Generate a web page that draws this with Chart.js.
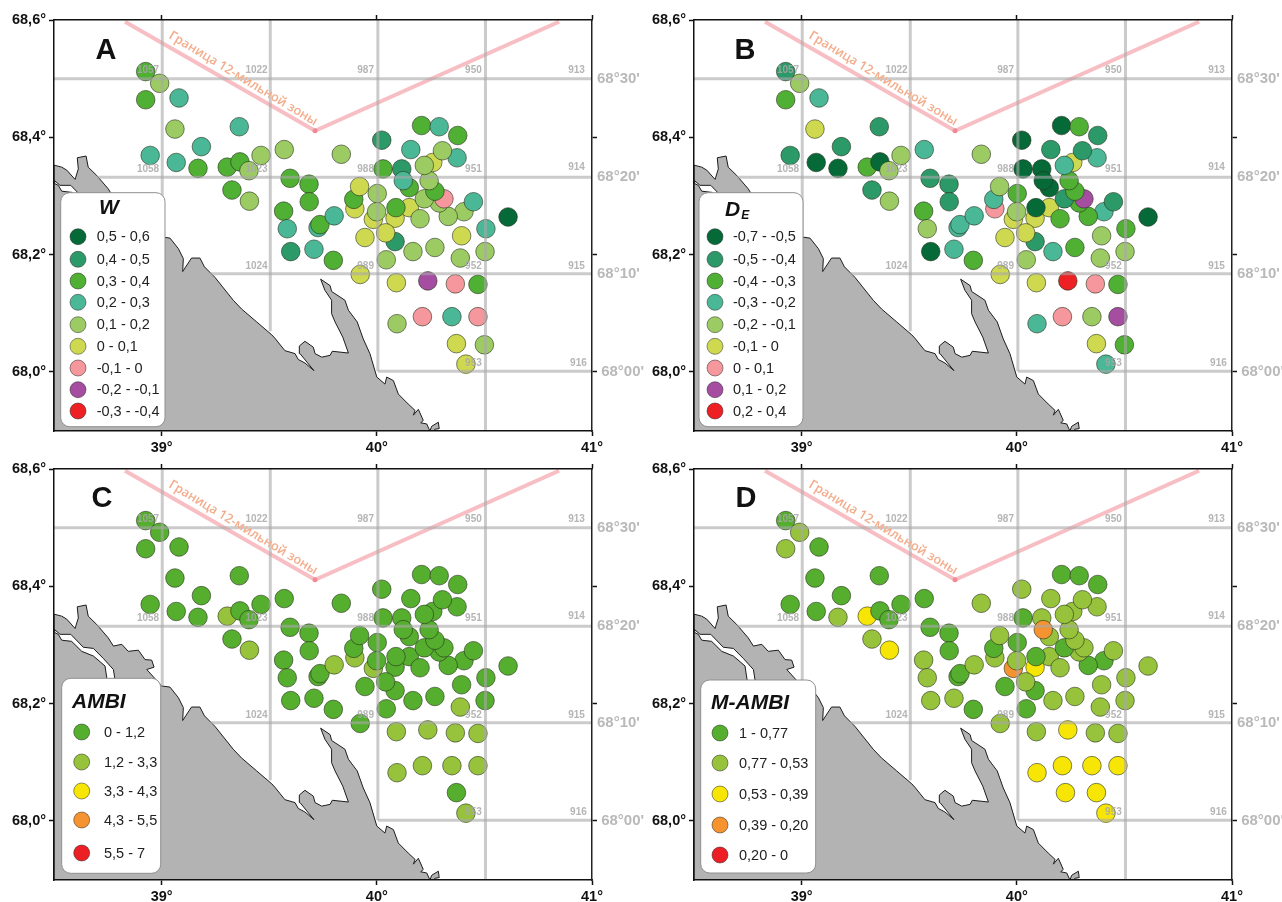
<!DOCTYPE html>
<html lang="ru">
<head>
  <meta charset="UTF-8">
  <title>W, DE, AMBI, M-AMBI</title>
  <script src="https://cdn.jsdelivr.net/npm/chart.js"></script>
  <style>
    body { margin: 0; background: #fff; overflow: hidden; }
    canvas { position: absolute; }
  </style>
</head>
<body>
  <canvas id="chartA" width="652" height="453" style="left:0;top:0"></canvas>
  <canvas id="chartB" width="642" height="453" style="left:640px;top:0"></canvas>
  <canvas id="chartC" width="652" height="453" style="left:0;top:449px"></canvas>
  <canvas id="chartD" width="642" height="453" style="left:640px;top:449px"></canvas>

  <script>
    // stations, drawing order matters where circles overlap
    const stationLon = [38.926,38.991,38.926,39.081,39.062,39.361,38.947,39.068,39.185,39.169,39.305,39.364,39.406,39.462,39.570,39.597,39.685,39.327,39.408,39.686,39.567,39.584,39.600,39.708,39.727,39.736,39.798,39.802,39.923,39.945,39.898,39.893,39.920,40.002,39.984,39.999,40.085,40.151,40.089,40.085,40.041,40.044,40.168,40.270,40.388,40.503,40.507,40.394,40.610,40.405,40.449,40.332,40.290,40.312,40.201,40.221,40.270,40.243,40.151,40.116,40.123,40.029,40.023,39.835,40.158,40.208,40.290,40.376,40.260,40.373,40.305,40.221,40.091,40.237,40.365,40.470,40.094,40.212,40.349,40.470,40.370,40.500,40.414,40.226];
    const stationLat = [68.512,68.492,68.464,68.467,68.414,68.418,68.369,68.357,68.384,68.347,68.349,68.358,68.343,68.369,68.379,68.330,68.320,68.310,68.291,68.290,68.274,68.244,68.205,68.209,68.246,68.251,68.190,68.266,68.166,68.229,68.278,68.294,68.316,68.304,68.260,68.273,68.262,68.280,68.280,68.222,68.237,68.191,68.205,68.212,68.194,68.205,68.244,68.232,68.264,68.273,68.290,68.265,68.288,68.295,68.261,68.295,68.308,68.326,68.314,68.346,68.326,68.346,68.395,68.371,68.379,68.420,68.418,68.403,68.357,68.365,68.377,68.352,68.152,68.155,68.150,68.149,68.082,68.094,68.094,68.094,68.048,68.046,68.013,68.048];

    // class of each station in each legend, null = no circle in that panel
    const classW = [2,4,2,3,4,3,3,3,3,2,2,2,4,4,4,2,2,2,4,2,2,3,1,3,3,2,2,3,5,5,5,2,5,4,5,4,5,5,2,1,5,4,4,4,4,4,3,5,0,4,3,4,4,6,4,4,2,4,2,1,3,2,1,4,3,2,3,2,5,3,4,4,5,7,6,2,4,6,3,6,5,4,5,null];
    const classDE = [1,4,2,3,5,1,1,0,1,0,2,0,4,4,3,1,1,1,4,1,2,4,0,3,3,3,2,3,5,5,6,3,4,2,5,4,5,5,0,1,5,4,3,2,4,4,2,4,0,3,1,2,2,7,2,1,2,2,0,0,0,0,0,4,1,0,2,1,5,3,1,3,5,8,6,2,3,6,4,7,5,2,3,null];
    const classAMBI = [0,0,0,0,0,0,0,0,0,0,1,0,0,0,0,0,0,0,1,0,0,0,0,0,0,0,0,1,0,0,1,0,0,0,1,0,0,0,0,0,0,0,0,0,1,0,0,0,0,0,0,0,0,0,0,0,0,0,0,0,0,0,0,0,0,0,0,0,0,0,0,0,1,1,1,1,1,1,1,1,0,null,1,null];
    const classMAMBI = [0,1,1,0,0,0,0,0,0,1,2,0,0,0,0,0,0,1,2,0,1,1,1,1,0,0,0,1,1,0,1,0,1,0,3,1,2,1,0,0,1,0,1,1,1,1,1,1,1,0,1,0,1,1,1,0,1,1,1,1,3,0,1,1,1,0,0,0,1,1,1,1,1,2,1,1,2,2,2,2,2,null,2,2];

    const legendW = ['0,5 - 0,6','0,4 - 0,5','0,3 - 0,4','0,2 - 0,3','0,1 - 0,2','0 - 0,1','-0,1 - 0','-0,2 - -0,1','-0,3 - -0,4'];
    const legendDE = ['-0,7 - -0,5','-0,5 - -0,4','-0,4 - -0,3','-0,3 - -0,2','-0,2 - -0,1','-0,1 - 0','0 - 0,1','0,1 - 0,2','0,2 - 0,4'];
    const legendAMBI = ['0 - 1,2','1,2 - 3,3','3,3 - 4,3','4,3 - 5,5','5,5 - 7'];
    const legendMAMBI = ['1 - 0,77','0,77 - 0,53','0,53 - 0,39','0,39 - 0,20','0,20 - 0'];

    const colorsNine = ['#056a38','#2c9968','#50b034','#4ab796','#9ccb63','#cfd94f','#f5979d','#a54da0','#ed2024'];
    const colorsFive = ['#55ae2e','#97c23c','#f7e605','#f59331','#ec2024'];

    // coast, lon/lat
    const landLon = [38.505,38.536,38.559,38.598,38.613,38.608,38.649,38.659,38.698,38.752,38.776,38.815,38.845,38.892,38.923,38.954,38.965,38.931,39.000,39.039,39.078,39.101,39.098,39.139,39.178,39.199,39.248,39.333,39.372,39.442,39.512,39.527,39.573,39.620,39.635,39.666,39.708,39.643,39.640,39.666,39.705,39.713,39.744,39.783,39.793,39.868,39.842,39.806,39.790,39.790,39.759,39.739,39.783,39.790,39.852,39.868,39.909,39.937,39.968,40.000,40.038,40.046,40.077,40.100,40.146,40.178,40.170,40.193,40.216,40.204,40.232,40.247,40.255,40.286,40.290,40.270,40.263,38.5,38.5,38.505];
    const landLat = [68.352,68.349,68.344,68.328,68.346,68.365,68.368,68.349,68.335,68.312,68.298,68.301,68.289,68.291,68.275,68.274,68.262,68.258,68.230,68.228,68.210,68.193,68.171,68.194,68.194,68.179,68.161,68.122,68.107,68.085,68.063,68.057,68.036,68.031,68.021,68.015,68.002,68.031,68.044,68.052,68.042,68.031,68.025,68.028,68.035,68.032,68.059,68.085,68.099,68.122,68.139,68.158,68.147,68.137,68.122,68.105,68.085,68.056,68.031,67.991,67.979,67.991,67.985,67.962,67.945,67.934,67.926,67.936,67.917,67.913,67.911,67.899,67.907,67.914,67.903,67.902,67.899,67.899,68.352,68.352];
    const lagoonLon = [38.503,38.528,38.578,38.636,38.683,38.729,38.776,38.788,38.751,38.737,38.683,38.629,38.582,38.536,38.520,38.503,38.503];
    const lagoonLat = [68.326,68.318,68.318,68.296,68.294,68.277,68.258,68.230,68.230,68.264,68.281,68.289,68.306,68.308,68.318,68.321,68.326];

    const mileLon = [38.83,39.713,40.847];
    const mileLat = [68.597,68.411,68.597];
    const mileText = 'Граница 12-мильной зоны';

    // graticule, each line stops at the coast
    const gridLats = [68.5,68.332,68.167,68.001];
    const gridLatFrom = [38.5,38.70,39.225,40.005];
    const gridLons = [39.003,39.505,40.005,40.505];
    const gridLonTo = [68.23,68.069,68.001,67.899];

    const squareLabels = ['1057','1022','987','950','913','1058','1023','988','951','914','1024','989','952','915','953','916'];
    const squareLon = [38.937,39.441,39.948,40.449,40.928,38.937,39.441,39.948,40.449,40.928,39.441,39.948,40.449,40.928,40.449,40.937];
    const squareLat = [68.514,68.514,68.514,68.514,68.514,68.346,68.346,68.346,68.346,68.349,68.18,68.18,68.18,68.18,68.014,68.015];

    const lonTicks = [39,40,41];
    const lonTickLabels = ['39°','40°','41°'];
    const latTicks = [68.6,68.4,68.2,68.0];
    const latTickLabels = ['68,6°','68,4°','68,2°','68,0°'];
    const rightTicks = [68.5,68.4,68.333,68.2,68.167,68.0];
    const rightTickLabels = ["68°30'",'',"68°20'",'',"68°10'"," 68°00'"];

    const panels = [
      { id: 'chartA', letter: 'A', letterX: 106, letterY: 51, classes: classW, labels: legendW, colors: colorsNine, title: 'W', titleX: 99, titleY: 208,
        box: [60.7, 192.7, 104.3, 234], dotX: 78, textX: 96.7, rows: [236.7,259.3,281,302.3,324.7,346.3,368,389.7,411] },
      { id: 'chartB', letter: 'B', letterX: 105, letterY: 51, classes: classDE, labels: legendDE, colors: colorsNine, title: 'D', sub: 'E', titleX: 85, titleY: 210,
        box: [59, 192.7, 104, 234], dotX: 75, textX: 93, rows: [236.7,259.3,281,302.3,324.7,346.3,368,389.7,411] },
      { id: 'chartC', letter: 'C', letterX: 102, letterY: 50, classes: classAMBI, labels: legendAMBI, colors: colorsFive, title: 'AMBI', titleX: 72, titleY: 253,
        box: [61.7, 229.3, 99, 195], dotX: 81.7, textX: 104, rows: [283,313,342,371,404] },
      { id: 'chartD', letter: 'D', letterX: 106, letterY: 50, classes: classMAMBI, labels: legendMAMBI, colors: colorsFive, title: 'M-AMBI', titleX: 71, titleY: 254,
        box: [60.7, 231, 115, 193], dotX: 80, textX: 99, rows: [284,314,345,376,406] }
    ];

    const FONT = '"Liberation Sans", Arial, sans-serif';
    const tickFont = { family: FONT, size: 14.5, weight: 'bold' };

    function pairs(xs, ys) {
      return xs.map((x, i) => ({ x: x, y: ys[i] }));
    }

    function fixedTicks(values) {
      return scale => { scale.ticks = values.map(v => ({ value: v })); };
    }

    function mapText(panel) {
      return {
        id: 'mapText',
        afterDraw(chart) {
          const ctx = chart.ctx;
          const sx = chart.scales.x;
          const sy = chart.scales.y;
          ctx.save();
          ctx.textBaseline = 'middle';
          ctx.textAlign = 'center';

          ctx.font = 'bold 10px ' + FONT;
          ctx.fillStyle = 'rgba(168,168,168,0.85)';
          squareLabels.forEach((t, i) => {
            ctx.fillText(t, sx.getPixelForValue(squareLon[i]), sy.getPixelForValue(squareLat[i]));
          });

          ctx.save();
          ctx.translate(sx.getPixelForValue(39.379), sy.getPixelForValue(68.5));
          ctx.rotate(31 * Math.PI / 180);
          ctx.font = '600 12.7px "Open Sans", sans-serif';
          ctx.fillStyle = '#f4ad8c';
          ctx.fillText(mileText, 0, 0);
          ctx.restore();

          ctx.font = 'bold 29px ' + FONT;
          ctx.fillStyle = '#111';
          ctx.fillText(panel.letter, panel.letterX, panel.letterY);

          // legend card
          const b = panel.box;
          ctx.beginPath();
          ctx.roundRect(b[0], b[1], b[2], b[3], 9);
          ctx.fillStyle = '#fff';
          ctx.fill();
          ctx.lineWidth = 1;
          ctx.strokeStyle = '#8f8f8f';
          ctx.stroke();

          ctx.textAlign = 'left';
          ctx.fillStyle = '#111';
          ctx.font = 'italic bold 21px ' + FONT;
          ctx.fillText(panel.title, panel.titleX, panel.titleY);
          if (panel.sub) {
            const w = ctx.measureText(panel.title).width;
            ctx.font = 'italic bold 12px ' + FONT;
            ctx.fillText(panel.sub, panel.titleX + w + 1, panel.titleY + 6);
          }

          ctx.font = '14.5px ' + FONT;
          panel.labels.forEach((t, i) => {
            ctx.beginPath();
            ctx.arc(panel.dotX, panel.rows[i], 8, 0, Math.PI * 2);
            ctx.fillStyle = panel.colors[i];
            ctx.fill();
            ctx.strokeStyle = 'rgba(40,40,40,0.5)';
            ctx.stroke();
            ctx.fillStyle = '#222';
            ctx.fillText(t, panel.textX, panel.rows[i] + 0.5);
          });
          ctx.restore();
        }
      };
    }

    function drawPanel(panel) {
      const shown = stationLon.map((_, i) => i).filter(i => panel.classes[i] !== null);
      const canvas = document.getElementById(panel.id);
      const gridStyle = { type: 'line', borderColor: 'rgba(168,168,168,0.6)', borderWidth: 3, pointRadius: 0, fill: false, order: 2 };
      const gridSets = [];
      gridLats.forEach((lat, i) => {
        gridSets.push({ ...gridStyle, data: [{ x: gridLatFrom[i], y: lat }, { x: 41, y: lat }] });
      });
      gridLons.forEach((lon, i) => {
        gridSets.push({ ...gridStyle, data: [{ x: lon, y: 68.6 }, { x: lon, y: gridLonTo[i] }] });
      });

      new Chart(canvas, {
        type: 'scatter',
        data: {
          datasets: [
            { type: 'line', data: pairs(landLon, landLat), borderColor: '#1c1c1c', borderWidth: 1, backgroundColor: '#b3b3b3', fill: 'shape', pointRadius: 0, order: 6 },
            { type: 'line', data: pairs(lagoonLon, lagoonLat), borderColor: '#1c1c1c', borderWidth: 1, backgroundColor: '#fff', fill: 'shape', pointRadius: 0, order: 5 },
            {
              data: shown.map(i => ({ x: stationLon[i], y: stationLat[i] })),
              pointRadius: 9.3,
              borderWidth: 1,
              borderColor: 'rgba(40,50,30,0.6)',
              backgroundColor: shown.map(i => panel.colors[panel.classes[i]]),
              order: 4
            },
            { type: 'line', data: pairs(mileLon, mileLat), borderColor: 'rgba(244,170,176,0.75)', borderWidth: 4, fill: false,
              pointRadius: [0, 2.5, 0], pointBackgroundColor: '#f08a94', pointBorderWidth: 0, order: 3 },
            ...gridSets
          ]
        },
        options: {
          responsive: false,
          animation: false,
          events: [],
          layout: { padding: 0 },
          plugins: { legend: { display: false }, tooltip: { enabled: false } },
          scales: {
            x: {
              position: 'bottom', min: 38.5, max: 41,
              afterBuildTicks: fixedTicks(lonTicks),
              afterFit: s => { s.height = 22; },
              grid: { drawOnChartArea: false, tickLength: 5, tickWidth: 1.5, tickColor: '#111' },
              border: { color: '#111', width: 1.5, z: 2 },
              ticks: { callback: (v, i) => lonTickLabels[i], font: tickFont, color: '#111', padding: 3, maxRotation: 0, autoSkip: false }
            },
            xTop: {
              axis: 'x', position: 'top', min: 38.5, max: 41,
              afterBuildTicks: fixedTicks(lonTicks),
              afterFit: s => { s.height = 20; },
              grid: { drawOnChartArea: false, tickLength: 5, tickWidth: 1.5, tickColor: '#111' },
              border: { color: '#111', width: 1.5, z: 2 },
              ticks: { display: false }
            },
            y: {
              position: 'left', min: 67.899, max: 68.6,
              afterBuildTicks: fixedTicks(latTicks),
              afterFit: s => { s.width = 54; },
              grid: { drawOnChartArea: false, tickLength: 5, tickWidth: 1.5, tickColor: '#111' },
              border: { color: '#111', width: 1.5, z: 2 },
              ticks: { callback: (v, i) => latTickLabels[i], font: tickFont, color: '#111', padding: 3, autoSkip: false }
            },
            yRight: {
              axis: 'y', position: 'right', min: 67.899, max: 68.6,
              afterBuildTicks: fixedTicks(rightTicks),
              afterFit: s => { s.width = canvas.width - 592; },
              grid: {
                drawOnChartArea: false, tickLength: 5, tickWidth: 1.5,
                tickColor: c => (c.index % 2 === 0 && c.index !== 5 ? 'rgba(0,0,0,0)' : '#111')
              },
              border: { color: '#222', width: 1.5, z: 2 },
              ticks: { callback: (v, i) => rightTickLabels[i], font: { family: FONT, size: 15, weight: 'bold' }, color: '#b9b9b9', padding: 0, autoSkip: false }
            }
          }
        },
        plugins: [mapText(panel)]
      });
    }

    panels.forEach(drawPanel);
  </script>
</body>
</html>
